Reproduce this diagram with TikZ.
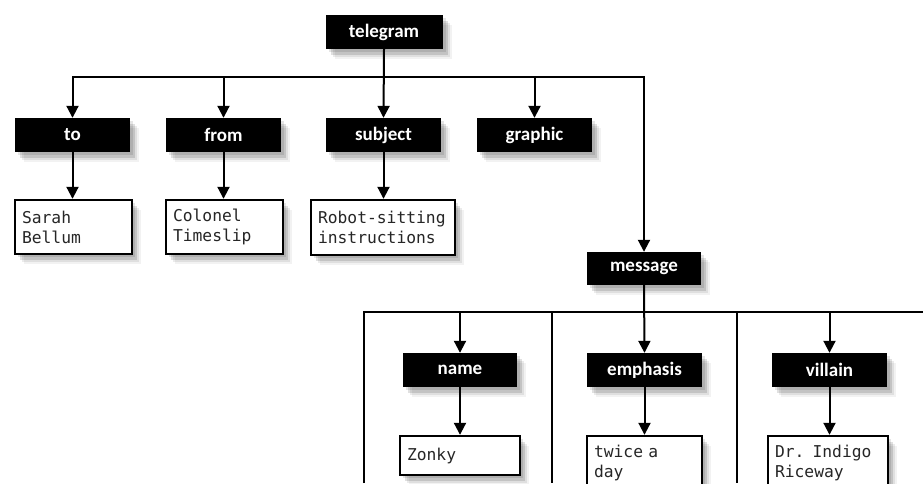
\documentclass[tikz,border=0pt]{standalone}
\usepackage{fontspec}
\usetikzlibrary{arrows.meta,shadows}
\newfontfamily\tagfont{Carlito}
\newfontfamily\valfont{DejaVu Sans Mono}

\tikzset{
  softshadow/.style={
    drop shadow={shadow xshift=3pt, shadow yshift=-3pt, fill=black, opacity=0.10},
    drop shadow={shadow xshift=5pt, shadow yshift=-6pt, fill=black, opacity=0.12},
    drop shadow={shadow xshift=7pt, shadow yshift=-8pt, fill=black, opacity=0.08},
    drop shadow={shadow xshift=9pt, shadow yshift=-10pt, fill=black, opacity=0.05}
  },
  tagbox/.style={fill=black, text=white, inner sep=0pt,
    minimum width=115pt, minimum height=34pt,
    font=\tagfont\bfseries\fontsize{19}{22}\selectfont, softshadow},
  valbox/.style={draw=black, fill=white, line width=2.4pt, inner xsep=7pt,
    inner ysep=0pt, align=left, text=black!85,
    font=\valfont\fontsize{16.3}{20}\selectfont, softshadow},
  arr/.style={line width=2pt, -{Triangle[length=12pt,width=12pt]}},
  rule/.style={line width=2pt}
}

\begin{document}
\begin{tikzpicture}[x=1pt,y=-1pt]
  \useasboundingbox (0,0) rectangle (923,483);
  \clip (0,0) rectangle (923,483);
  \fill[white] (0,0) rectangle (923,483);

  % root and first level
  \node[tagbox, minimum width=117pt] (telegram) at (384,32) {telegram};
  \node[tagbox] (to)      at (72.5,135)  {to};
  \node[tagbox] (from)    at (223.5,135) {from};
  \node[tagbox] (subject) at (383.5,135) {subject};
  \node[tagbox] (graphic) at (534.5,135) {graphic};
  \node[tagbox, minimum width=114pt, minimum height=33pt] (message) at (644,268.5) {message};

  % text content of the first level
  \node[valbox, text width=103pt, minimum height=54pt] (sarah)   at (73.5,227)  {Sarah\\Bellum};
  \node[valbox, text width=103pt, minimum height=54pt] (colonel) at (224.5,227) {Colonel\\Timeslip};
  \node[valbox, text width=130pt, minimum height=55pt] (robot)   at (383,227.5) {Robot-sitting\\instructions};

  % children of message
  \node[tagbox, minimum width=114pt] (name)     at (460,370)   {name};
  \node[tagbox] (emphasis) at (644.5,370) {emphasis};
  \node[tagbox] (villain)  at (829.5,370) {villain};

  \node[valbox, text width=106pt, minimum height=39pt] (zonky)  at (460,455.5) {Zonky};
  \node[valbox, text width=101pt, minimum height=54pt] (twice)  at (644.5,463) {twice a\\day};
  \node[valbox, text width=106pt, minimum height=54pt] (doctor) at (828,463)   {Dr. Indigo\\Riceway};

  % bus lines
  \coordinate (bus) at (0,77);
  \coordinate (mbus) at (0,312);
  \coordinate (mright) at (923,312);

  % telegram -> children
  \draw[arr] (telegram.south) -- (subject.north);
  \draw[arr, line join=miter] (message.north |- bus) -| (to.north);
  \draw[arr, line join=miter] (to.north |- bus) -| (message.north);
  \draw[arr] (from.north |- bus) -- (from.north);
  \draw[arr] (graphic.north |- bus) -- (graphic.north);

  \draw[arr] (to.south) -- (to.south |- sarah.north);
  \draw[arr] (from.south) -- (from.south |- colonel.north);
  \draw[arr] (subject.south) -- (subject.south |- robot.north);

  % message -> children, with the column rules
  \coordinate (c1) at (364,312);
  \coordinate (c2) at (552,312);
  \coordinate (c3) at (737,312);
  \draw[rule, line join=miter] (c1 |- 0,483) -- (c1) -- (mright);
  \draw[rule] (c2) -- (c2 |- 0,483);
  \draw[rule] (c3) -- (c3 |- 0,483);
  \draw[arr] (message.south) -- (emphasis.north);
  \draw[arr] (name.north |- mbus) -- (name.north);
  \draw[arr] (villain.north |- mbus) -- (villain.north);

  \draw[arr] (name.south) -- (name.south |- zonky.north);
  \draw[arr] (emphasis.south) -- (emphasis.south |- twice.north);
  \draw[arr] (villain.south) -- (villain.south |- doctor.north);
\end{tikzpicture}
\end{document}
